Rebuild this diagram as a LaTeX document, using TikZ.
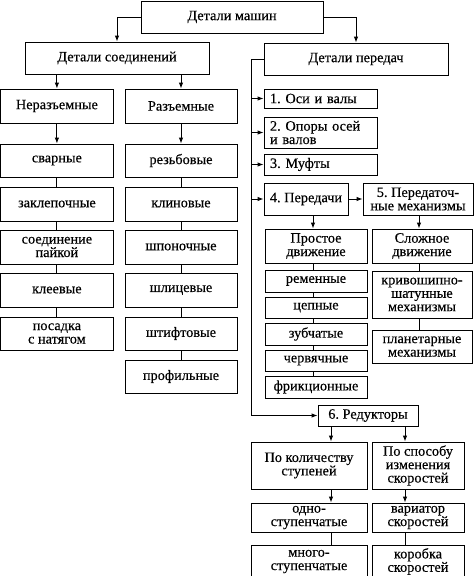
\documentclass[tikz,border=0pt]{standalone}
\usepackage{fontspec}
\setmainfont{Liberation Serif}
\newfontfamily\boxfont[FakeBold=0.3]{Liberation Serif}
\usetikzlibrary{arrows.meta}
\tikzset{
  box/.style={draw, line width=0.9pt, fill=white, inner sep=0pt, align=center,
    font=\boxfont\fontsize{14.3}{13.4}\selectfont\frenchspacing},
  lft/.style={align=left},
  arr/.style={line width=0.9pt, -{Latex[length=6pt,width=4.5pt]}},
  ln/.style={line width=0.9pt}
}
\newcommand\bx[7][]{\node[box,minimum width={(#5)-(#3)},minimum height={(#6)-(#4)},#1] (#2) at ({((#3)+(#5))/2},{((#4)+(#6))/2}) {#7};}
\begin{document}
\begin{tikzpicture}[x=1pt,y=-1pt]
\useasboundingbox (0,0) rectangle (474,576);
% top level
\bx{DM}{141}{1}{323}{33}{Детали машин}
\bx{DS}{25}{42}{209}{74}{Детали соединений}
\bx{DP}{264}{43}{448}{75}{Детали передач}
% left part
\bx{N}{0.8}{89}{113}{123}{Неразъемные}
\bx{R}{125}{89}{237}{123}{Разъемные}
\bx{L1}{0.8}{144}{113}{177}{сварные}
\bx{L2}{0.8}{187}{113}{221}{заклепочные}
\bx{L3}{0.8}{230}{113}{264}{соединение\\пайкой}
\bx{L4}{0.8}{273}{113}{307}{клеевые}
\bx{L5}{0.8}{317}{113}{350}{посадка\\с натягом}
\bx{R1}{125}{144}{237}{177}{резьбовые}
\bx{R2}{125}{187}{237}{221}{клиновые}
\bx{R3}{125}{230}{237}{264}{шпоночные}
\bx{R4}{125}{273}{237}{307}{шлицевые}
\bx{R5}{125}{317}{237}{350}{штифтовые}
\bx{R6p}{125}{360}{237}{393}{профильные}
% right part
\bx[lft,text width=101pt]{B1}{264}{89}{377}{108}{1. Оси и валы}
\bx[lft,text width=101pt]{B2}{264}{117}{377}{148}{2. Опоры осей\\и валов}
\bx[lft,text width=101pt]{B3}{264}{154}{377}{175}{3. Муфты}
\bx{B4}{264}{183}{348}{215}{4. Передачи}
\bx{B5}{363}{183}{473}{215}{5. Передаточ-\\ные механизмы}
\bx{PD}{265}{229}{367}{263}{Простое\\движение}
\bx{SD}{372}{229}{472}{263}{Сложное\\движение}
\bx{P1}{265}{270}{367}{292}{ременные}
\bx{P2}{265}{297}{367}{318}{цепные}
\bx{P3}{265}{323}{367}{345}{зубчатые}
\bx{P4}{265}{350}{367}{371}{червячные}
\bx{P5}{265}{376}{367}{398}{фрикционные}
\bx{S1}{372}{271}{472}{318}{кривошипно-\\шатунные\\механизмы}
\bx{S2}{372}{330}{472}{363}{планетарные\\механизмы}
\bx{RD}{318}{405}{418}{426}{6. Редукторы}
\bx{K}{251}{442}{367}{489}{По количеству\\ступеней}
\bx{S}{372}{442}{464}{489}{По способу\\изменения\\скоростей}
\bx{K1}{251}{503}{367}{532}{одно-\\ступенчатые}
\bx{V1}{372}{503}{464}{532}{вариатор\\скоростей}
\bx{K2}{251}{545}{367}{578}{много-\\ступенчатые}
\bx{V2}{372}{545}{464}{578}{коробка\\скоростей}
% connectors top
\draw[arr] (DM.west) -| (DS.north);
\draw[arr] (DM.east) -| (DP.north);
\draw[arr] (DS.south -| N.north) -- (N.north);
\draw[arr] (DS.south -| R.north) -- (R.north);
\draw[arr] (N.south) -- (L1.north);
\draw[arr] (R.south) -- (R1.north);
\draw[ln] (L1.south) -- (L2.north) (L2.south) -- (L3.north) (L3.south) -- (L4.north) (L4.south) -- (L5.north);
\draw[ln] (R1.south) -- (R2.north) (R2.south) -- (R3.north) (R3.south) -- (R4.north) (R4.south) -- (R5.north) (R5.south) -- (R6p.north);
% trunk
\coordinate (tr) at (251,0);
\draw[arr] (DP.west) -- (DP.west -| tr) -- (tr |- RD.west) -- (RD.west);
\draw[arr] (tr |- B1.west) -- (B1.west);
\draw[arr] (tr |- B2.west) -- (B2.west);
\draw[arr] (tr |- B3.west) -- (B3.west);
\draw[arr] (tr |- B4.west) -- (B4.west);
\draw[arr] (B4.east) -- (B5.west);
% simple / complex
\coordinate (cp) at (313,0);
\coordinate (cs) at (419,0);
\draw[arr] (cp |- B4.south) -- (cp |- PD.north);
\draw[arr] (cs |- B5.south) -- (cs |- SD.north);
\draw[ln] (cp |- PD.south) -- (cp |- P1.north) (cp |- P1.south) -- (cp |- P2.north) (cp |- P2.south) -- (cp |- P3.north) (cp |- P3.south) -- (cp |- P4.north) (cp |- P4.south) -- (cp |- P5.north);
\draw[ln] (cs |- SD.south) -- (cs |- S1.north) (cs |- S1.south) -- (cs |- S2.north);
% reducers
\coordinate (ca) at (331,0);
\coordinate (cb) at (405,0);
\draw[arr] (ca |- RD.south) -- (ca |- K.north);
\draw[arr] (cb |- RD.south) -- (cb |- S.north);
\draw[arr] (ca |- K.south) -- (ca |- K1.north);
\draw[arr] (cb |- S.south) -- (cb |- V1.north);
\draw[ln] (ca |- K1.south) -- (ca |- K2.north);
\draw[ln] (cb |- V1.south) -- (cb |- V2.north);
\end{tikzpicture}
\end{document}
